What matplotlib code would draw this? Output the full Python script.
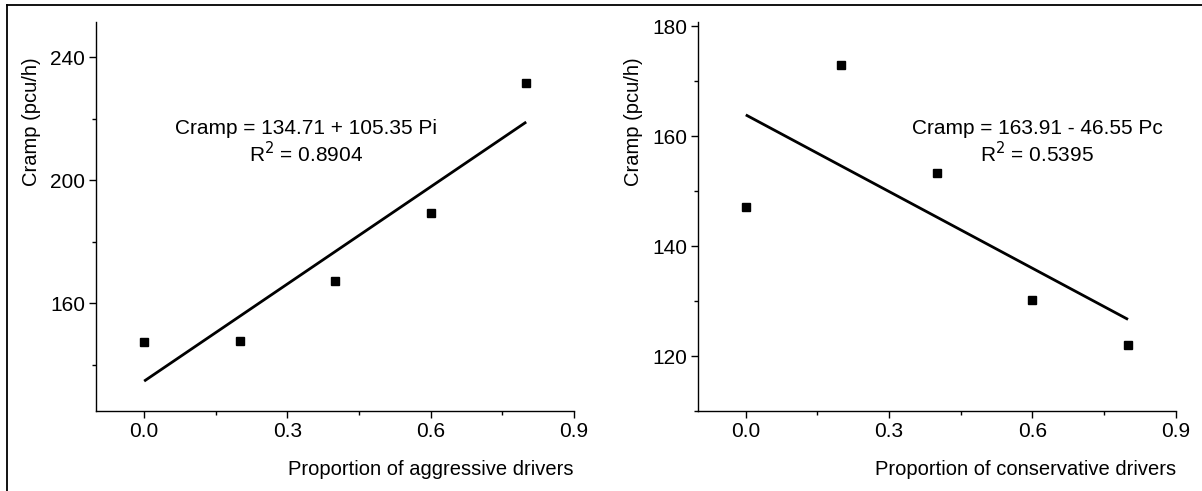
import numpy as np
import matplotlib.pyplot as plt
from matplotlib.lines import Line2D
from matplotlib.ticker import MultipleLocator

plt.rcParams['font.family'] = ['Liberation Sans', 'DejaVu Sans']

# proportions of drivers (x) and the measured Cramp values (pcu/h)
proportion = [0.0, 0.2, 0.4, 0.6, 0.8]
cramp_aggressive = [147.3, 147.9, 167.2, 189.3, 231.6]
cramp_conservative = [147.2, 173.0, 153.4, 130.2, 122.0]

# fitted lines as given in the figure
fit_aggressive = (134.71, 105.35, 0.8904)
fit_conservative = (163.91, -46.55, 0.5395)

fig = plt.figure(figsize=(12.02, 4.91), dpi=100)
ax1 = fig.add_axes([0.0802, 0.163, 0.3973, 0.792])
ax2 = fig.add_axes([0.5807, 0.163, 0.3975, 0.792])

panels = [
    (ax1, cramp_aggressive, fit_aggressive, "Proportion of aggressive drivers",
     (125, 251.5), 40, "Cramp = 134.71 + 105.35 Pi", 0.439),
    (ax2, cramp_conservative, fit_conservative, "Proportion of conservative drivers",
     (110, 180.8), 20, "Cramp = 163.91 - 46.55 Pc", 0.7095),
]

for ax, ys, fit, xlabel, ylim, ystep, eq, xpos in panels:
    a, b, r2 = fit
    xs = np.array([proportion[0], proportion[-1]])
    ax.plot(xs, a + b * xs, color="black", lw=2.0, solid_capstyle="butt")
    ax.plot(proportion, ys, ls="none", marker="s", ms=6, color="black")

    ax.set_xlim(-0.1, 0.9)
    ax.set_ylim(ylim)
    ax.xaxis.set_minor_locator(MultipleLocator(0.15))
    ax.yaxis.set_major_locator(MultipleLocator(ystep))
    ax.yaxis.set_minor_locator(MultipleLocator(ystep / 2))
    ax.set_xticks([0.0, 0.3, 0.6, 0.9])
    ax.set_xticklabels(["0.0", "0.3", "0.6", "0.9"])

    for s in ["top", "right"]:
        ax.spines[s].set_visible(False)
    for s in ["left", "bottom"]:
        ax.spines[s].set_linewidth(1.0)
    ax.tick_params(which="major", length=5, width=1, labelsize=15, pad=3)
    ax.tick_params(which="minor", length=3, width=1)

    ax.text(1.0, -0.125, xlabel, transform=ax.transAxes, ha="right", va="top", fontsize=14.5)
    ax.text(-0.135, 0.91, "Cramp (pcu/h)", transform=ax.transAxes, rotation=90,
            ha="center", va="top", fontsize=14.5)

    ax.text(xpos, 0.7275, eq, transform=ax.transAxes, ha="center", va="center", fontsize=15)
    ax.text(xpos, 0.663, "R$^2$ = %.4f" % r2, transform=ax.transAxes,
            ha="center", va="center", fontsize=15)

# partial frame around the figure (top and left edges)
fig.add_artist(Line2D([7 / 1202, 1.0], [1 - 4.5 / 491] * 2, color="black", lw=1.3,
                      transform=fig.transFigure))
fig.add_artist(Line2D([7 / 1202] * 2, [0.0, 1 - 4.5 / 491], color="black", lw=1.3,
                      transform=fig.transFigure))

fig.savefig("out.png", dpi=100)
